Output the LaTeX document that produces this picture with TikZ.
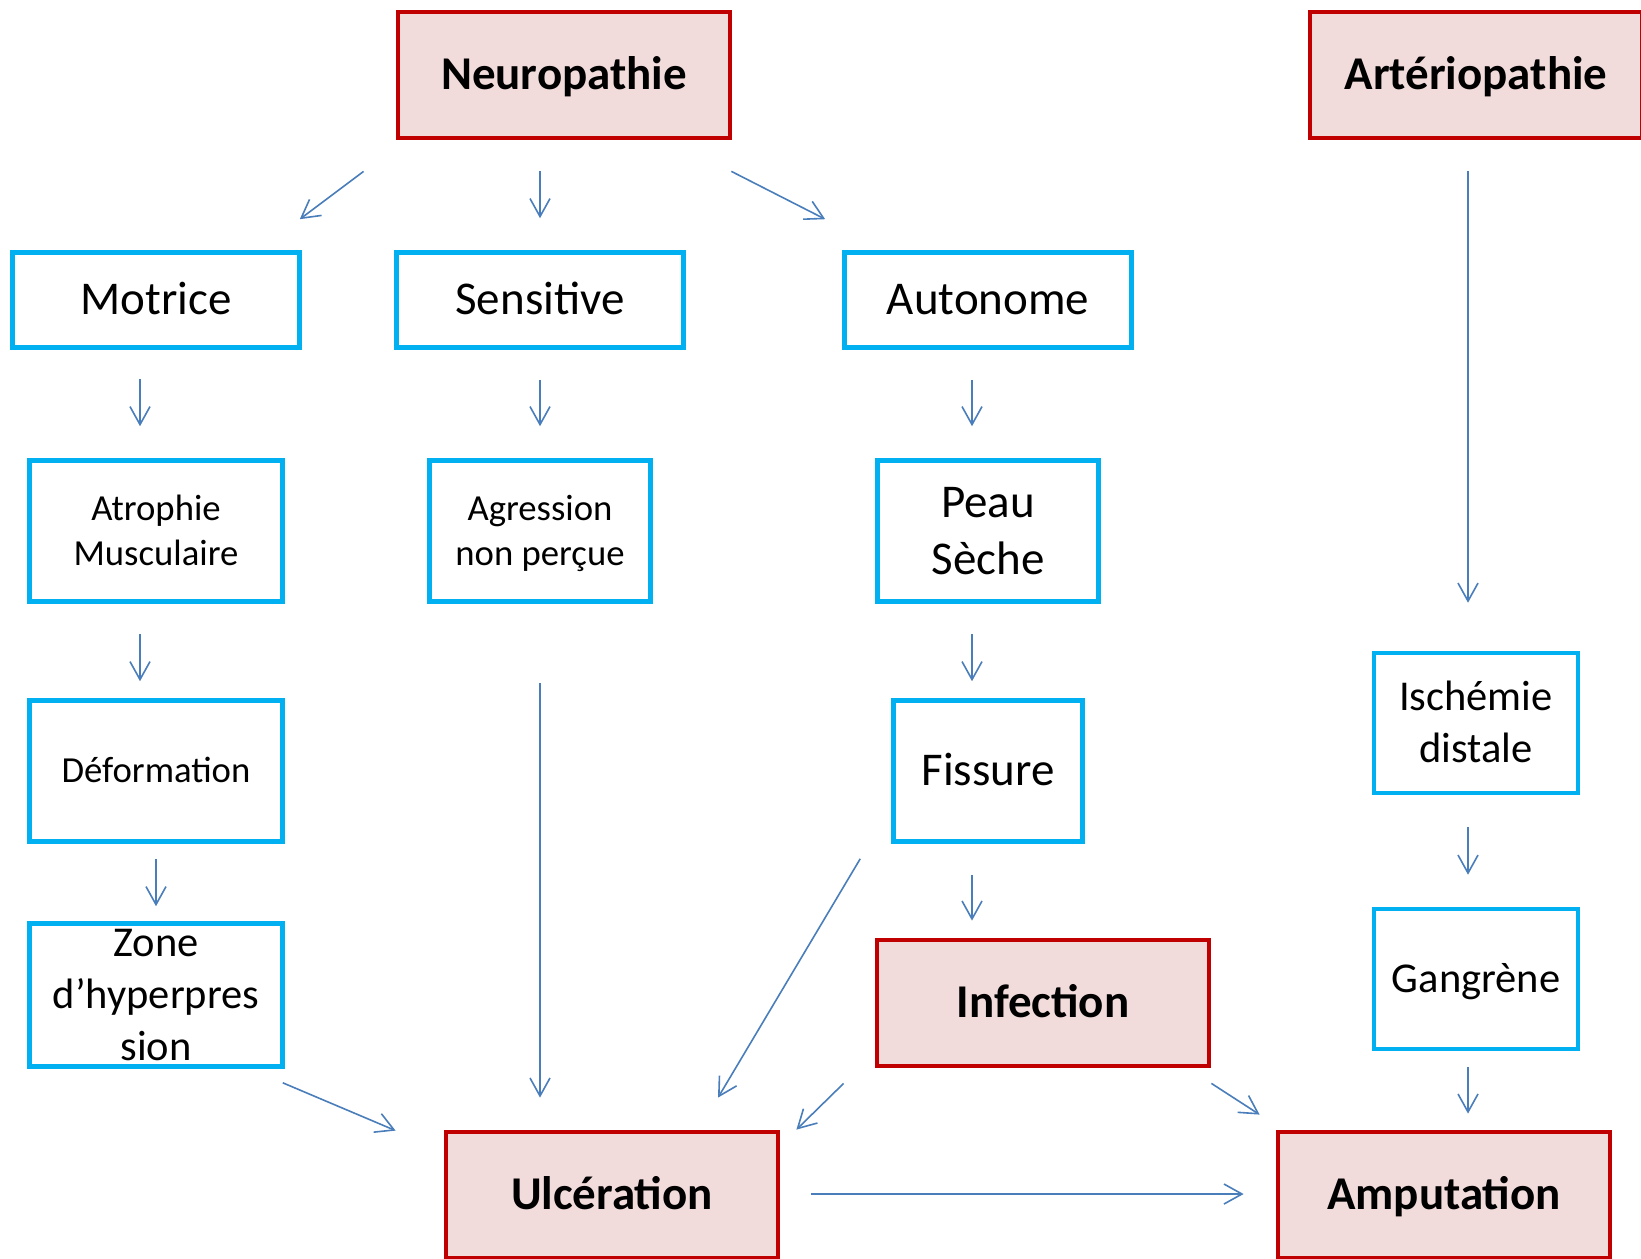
\documentclass[tikz,border=0pt]{standalone}
\usepackage{fontspec}
\setmainfont{Carlito}
\usetikzlibrary{arrows.meta}
\definecolor{redline}{HTML}{C00000}
\definecolor{redfill}{HTML}{F2DCDB}
\definecolor{blueline}{HTML}{00B0F0}
\definecolor{arrowblue}{HTML}{4A7EBB}
\begin{document}
\begin{tikzpicture}[x=0.5pt,y=-0.5pt,
	mainbox/.style={draw=redline,fill=redfill,line width=2.4pt,inner sep=0pt,
		minimum width=166pt,minimum height=63pt,text height=14.8pt,text depth=0pt,
		font=\fontsize{23.5}{28.7}\selectfont\bfseries},
	subbox/.style={draw=blueline,line width=2.3pt,inner sep=0pt,align=center,
		text height=14.8pt,text depth=0pt,
		font=\fontsize{23.5}{28.7}\selectfont},
	midtext/.style={text height=13.4pt,font=\fontsize{21.25}{25.8}\selectfont},
	smalltext/.style={text height=11.6pt,font=\fontsize{18.35}{22.5}\selectfont},
	fl/.style={draw=arrowblue,line width=0.8pt,-{Straight Barb[length=9pt,width=10pt]}}]
	\useasboundingbox (0,0) rectangle (1641,1258);
	% causes
	\node[mainbox] (neuro) at (564,75) {Neuropathie};
	\node[mainbox] (arterio) at (1476,75) {Artériopathie};
	% neuropathie
	\node[subbox,minimum width=143.5pt,minimum height=47.5pt] (motrice) at (156,300) {Motrice};
	\node[subbox,minimum width=143.5pt,minimum height=47.5pt] (sensitive) at (540,300) {Sensitive};
	\node[subbox,minimum width=143.5pt,minimum height=47.5pt] (autonome) at (988,300) {Autonome};
	\node[subbox,smalltext,text height=34.1pt,minimum width=126.5pt,minimum height=70.5pt] (atroph) at (156,531) {Atrophie\\Musculaire};
	\node[subbox,smalltext,text height=34.1pt,minimum width=110.5pt,minimum height=70.5pt] (agress) at (540,531) {Agression\\non perçue};
	\node[subbox,text height=43.5pt,minimum width=110.5pt,minimum height=70.5pt] (peau) at (988,531) {Peau\\Sèche};
	\node[subbox,smalltext,minimum width=126.5pt,minimum height=70.5pt] (deform) at (156,771) {Déformation};
	\node[subbox,minimum width=94.5pt,minimum height=70.5pt] (fissure) at (988,771) {Fissure};
	\node[subbox,midtext,text height=65pt,minimum width=126.5pt,minimum height=71.5pt] (zone) at (156,995) {Zone\\d’hyperpres\\sion};
	% arteriopathie
	\node[subbox,midtext,text height=39.2pt,minimum width=102pt,minimum height=70pt] (ischemie) at (1476,723) {Ischémie\\distale};
	\node[subbox,midtext,minimum width=102pt,minimum height=70pt] (gangrene) at (1476,979) {Gangrène};
	% complications
	\node[mainbox] (infection) at (1043,1003) {Infection};
	\node[mainbox] (ulcer) at (612,1195) {Ulcération};
	\node[mainbox] (amput) at (1444,1195) {Amputation};
	% arrows
	\draw[fl] ([shift={(-32,31)}]neuro.south west) -- ([shift={(-2,-31)}]motrice.north east);
	\draw[fl] ([shift={(-24,31)}]neuro.south) -- ([shift={(0,-32)}]sensitive.north);
	\draw[fl] ([shift={(-1,31)}]neuro.south east) -- ([shift={(-17,-31)}]autonome.north west);
	\draw[fl] ([shift={(-16,29)}]motrice.south) -- ([shift={(-16,-32)}]atroph.north);
	\draw[fl] ([shift={(0,30)}]sensitive.south) -- ([shift={(0,-32)}]agress.north);
	\draw[fl] ([shift={(-16,30)}]autonome.south) -- ([shift={(-16,-32)}]peau.north);
	\draw[fl] ([shift={(-16,30)}]atroph.south) -- ([shift={(-16,-17)}]deform.north);
	\draw[fl] ([shift={(-16,30)}]peau.south) -- ([shift={(-16,-17)}]fissure.north);
	\draw[fl] ([shift={(0,15)}]deform.south) -- ([shift={(0,-15)}]zone.north);
	\draw[fl] ([shift={(-16,31)}]fissure.south) -- ([shift={(-71,-17)}]infection.north);
	\draw[fl] ([shift={(0,79)}]agress.south) -- ([shift={(-72,-32)}]ulcer.north);
	\draw[fl] ([shift={(-31,15)}]fissure.south west) -- ([shift={(106,-32)}]ulcer.north);
	\draw[fl] ([shift={(-2,14)}]zone.south east) -- ([shift={(-48,1)}]ulcer.north west);
	\draw[fl] ([shift={(-31,15)}]infection.south west) -- ([shift={(16,0)}]ulcer.north east);
	\draw[fl] ([shift={(0,15)}]infection.south east) -- ([shift={(-16,-15)}]amput.north west);
	\draw[fl] ([shift={(31,-1)}]ulcer.east) -- ([shift={(-32,-1)}]amput.west);
	\draw[fl] ([shift={(-8,31)}]arterio.south) -- ([shift={(-8,-48)}]ischemie.north);
	\draw[fl] ([shift={(-8,32)}]ischemie.south) -- ([shift={(-8,-32)}]gangrene.north);
	\draw[fl] ([shift={(-8,16)}]gangrene.south) -- ([shift={(24,-16)}]amput.north);
\end{tikzpicture}
\end{document}
